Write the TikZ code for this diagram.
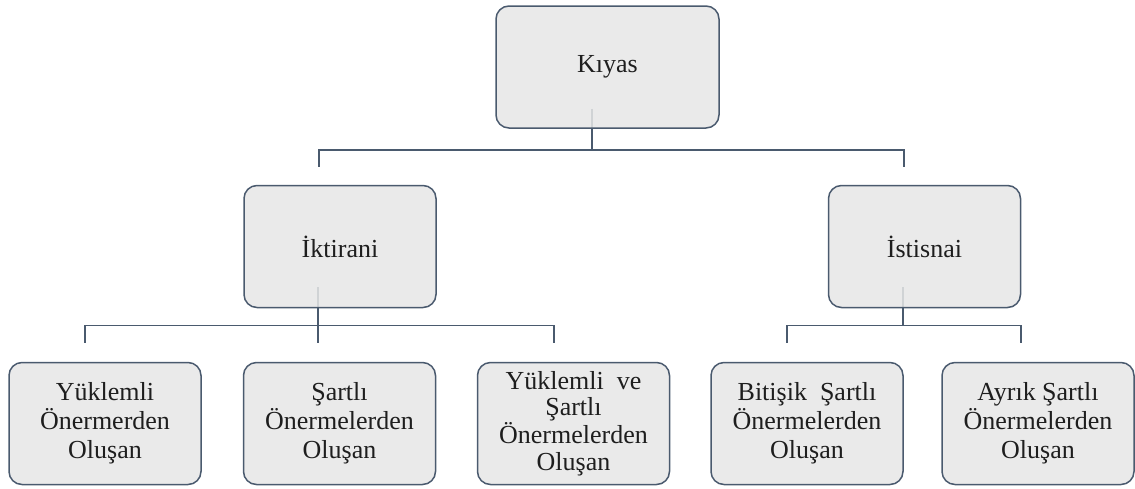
\documentclass[tikz,border=0pt]{standalone}
\usepackage{fontspec}
\setmainfont{Liberation Serif}
\usetikzlibrary{positioning,calc,backgrounds}

\definecolor{boxline}{HTML}{4A5A6E}
\definecolor{boxfill}{HTML}{E7E7E7}
\definecolor{boxtext}{HTML}{1E1E1E}

\begin{document}
\begin{tikzpicture}
	\begin{scope}[x=1pt, y=-1pt]
		\tikzstyle{every node}=[align=center, inner sep=0pt]
		\tikzstyle{box}=[draw=boxline, line width=1.5pt, fill=boxfill, fill opacity=0.86, text opacity=1, text=boxtext,
			rounded corners=13pt, minimum width=192pt, minimum height=122pt, font=\fontsize{26}{29}\selectfont]
		\tikzstyle{link}=[boxline, line width=1.5pt]

		\useasboundingbox (0, 0) rectangle (1135, 488);

		\node[box, minimum width=223pt] (kiyas) at (607.5, 67) {Kıyas};

		\node[box] (ikt) at (340, 246.5)   {İktirani};
		\node[box] (ist) at (924.5, 246.5) {İstisnai};

		\node[box] (yuk)  at (105, 423.5)   {Yüklemli\\Önermerden\\Oluşan};
		\node[box] (sart) at (339.5, 423.5) {Şartlı\\Önermelerden\\Oluşan};
		\node[box, font=\fontsize{26}{26.5}\selectfont] (yuks) at (573.5, 423.5) {Yüklemli\ \ ve\\Şartlı\\Önermelerden\\Oluşan};
		\node[box] (biti) at (807, 423.5)   {Bitişik\ \ Şartlı\\Önermelerden\\Oluşan};
		\node[box] (ayri) at (1038, 423.5)  {Ayrık Şartlı\\Önermelerden\\Oluşan};

		% free ends of the connectors
		\coordinate (kiyas-ikt) at (319, 167);
		\coordinate (kiyas-ist) at (904, 167);
		\coordinate (ikt-yuk)  at (85, 343);
		\coordinate (ikt-yuks) at (554, 343);
		\coordinate (ist-biti) at (787, 343);
		\coordinate (ist-ayri) at (1021, 343);

		\begin{scope}[on background layer]
			\draw [link] ([xshift=-15.5pt, yshift=20pt]kiyas.south) -- ++(0, 41) coordinate (kbar) -| (kiyas-ikt);
			\draw [link] (kbar) -| (kiyas-ist);

			\draw [link] ([xshift=-22pt, yshift=21pt]ikt.south) -- ++(0, 38) coordinate (ibar) -- ++(0, 18);
			\draw [link] (ibar) -| (ikt-yuk);
			\draw [link] (ibar) -| (ikt-yuks);

			\draw [link] ([xshift=-21.5pt, yshift=21pt]ist.south) -- ++(0, 38) coordinate (sbar);
			\draw [link] (sbar) -| (ist-biti);
			\draw [link] (sbar) -| (ist-ayri);
		\end{scope}
	\end{scope}
\end{tikzpicture}
\end{document}
